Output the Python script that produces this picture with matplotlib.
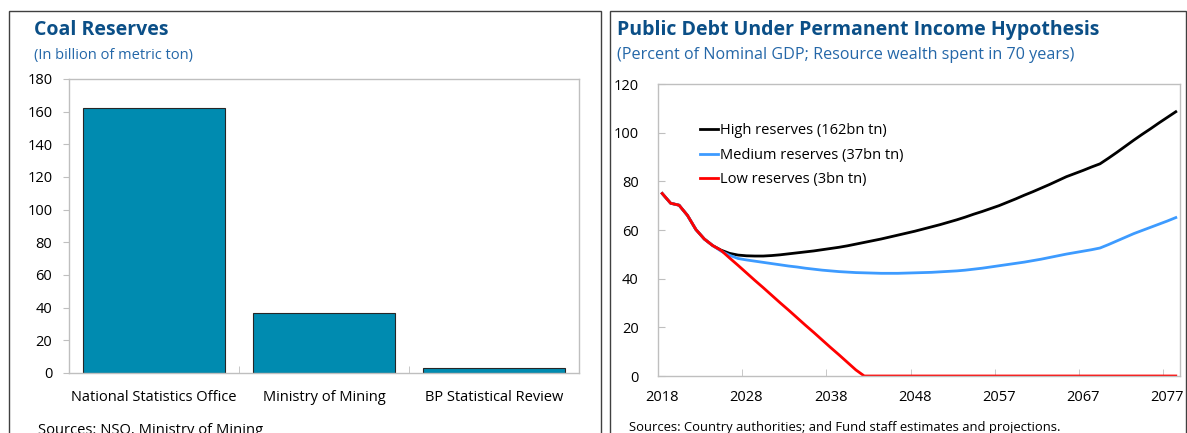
"""
Two-panel chart: coal reserves by source (bars) and public debt paths under the
permanent income hypothesis (lines).
"""
import matplotlib.pyplot as plt
import numpy as np
from matplotlib.patches import Rectangle

plt.rcParams["font.family"] = ["Open Sans", "DejaVu Sans"]

TITLE_COLOR = "#0B4F87"
SUBTITLE_COLOR = "#2467A8"
FRAME_COLOR = "#BFBFBF"

# left panel
SOURCES = ["National Statistics Office", "Ministry of Mining", "BP Statistical Review"]
RESERVES = [162, 37, 3]

# right panel: one value per year, 2018 onward
YEAR_TICK_LABELS = ["2018", "2028", "2038", "2048", "2057", "2067", "2077"]
HIGH_RESERVES = [
    75.0, 71.0, 70.2, 66.0, 60.2, 56.3, 53.6, 51.7, 50.4, 49.7,
    49.4, 49.3, 49.3, 49.5, 49.8, 50.2, 50.6, 51.0, 51.4, 51.9,
    52.4, 52.9, 53.5, 54.2, 54.9, 55.6, 56.3, 57.1, 57.9, 58.7,
    59.5, 60.4, 61.3, 62.2, 63.2, 64.2, 65.3, 66.5, 67.6, 68.8,
    70.0, 71.4, 72.8, 74.3, 75.7, 77.2, 78.7, 80.3, 81.9, 83.2,
    84.5, 85.9, 87.2, 89.5, 91.9, 94.4, 96.9, 99.3, 101.6, 104.0,
    106.3, 108.6,
]
MEDIUM_RESERVES = [
    75.0, 71.0, 70.2, 66.0, 60.2, 56.3, 53.6, 51.3, 49.6, 48.3,
    47.7, 47.2, 46.7, 46.2, 45.7, 45.2, 44.8, 44.3, 43.9, 43.5,
    43.2, 42.9, 42.7, 42.5, 42.4, 42.3, 42.2, 42.2, 42.2, 42.3,
    42.4, 42.5, 42.6, 42.8, 43.0, 43.2, 43.5, 43.9, 44.3, 44.8,
    45.3, 45.8, 46.3, 46.8, 47.4, 48.0, 48.7, 49.4, 50.1, 50.7,
    51.3, 51.9, 52.6, 54.0, 55.5, 57.0, 58.5, 59.8, 61.1, 62.4,
    63.7, 65.1,
]
LOW_RESERVES = [
    75.0, 71.0, 70.2, 66.0, 60.2, 56.3, 53.6, 51.6, 48.5, 45.5,
    42.4, 39.3, 36.3, 33.2, 30.1, 27.1, 24.0, 20.9, 17.9, 14.8,
    11.7, 8.7, 5.6, 2.5, 0.0, 0.0, 0.0, 0.0, 0.0, 0.0,
    0.0, 0.0, 0.0, 0.0, 0.0, 0.0, 0.0, 0.0, 0.0, 0.0,
    0.0, 0.0, 0.0, 0.0, 0.0, 0.0, 0.0, 0.0, 0.0, 0.0,
    0.0, 0.0, 0.0, 0.0, 0.0, 0.0, 0.0, 0.0, 0.0, 0.0,
    0.0, 0.0,
]

W, H = 1187, 433


def fx(px):
    return px / W


def fy(py):
    return 1 - py / H


def style_frame(ax):
    for sp in ax.spines.values():
        sp.set_color(FRAME_COLOR)
        sp.set_linewidth(1.0)
    ax.tick_params(colors=FRAME_COLOR, labelcolor="black", labelsize=10.5)


def panel(fig, x0, x1, title, subtitle, source, text_x, sub_size, src_x, src_size, src_top):
    fig.add_artist(Rectangle((fx(x0), -0.05), fx(x1 - x0), fy(11) + 0.05,
                             transform=fig.transFigure, fill=False,
                             edgecolor="#404040", lw=1.0))
    fig.text(fx(text_x), fy(35), title, fontsize=14, fontweight="bold",
             color=TITLE_COLOR, va="baseline")
    fig.text(fx(text_x), fy(59), subtitle, fontsize=sub_size,
             color=SUBTITLE_COLOR, va="baseline")
    fig.text(fx(src_x), fy(src_top), source, fontsize=src_size, va="top")


def plot_bars(ax):
    x = np.arange(len(RESERVES))
    ax.bar(x, RESERVES, width=0.835, color="#008BB0", edgecolor="#262626", lw=0.8)
    ax.set_xlim(-0.5, len(RESERVES) - 0.5)
    ax.set_ylim(0, 180)
    ax.set_yticks(np.arange(0, 181, 20))
    ax.set_xticks(x)
    ax.set_xticklabels(SOURCES)
    ax.set_xticks(x[:-1] + 0.5, minor=True)
    ax.tick_params(axis="x", which="major", length=0, pad=12)
    ax.tick_params(axis="x", which="minor", direction="in", length=5, color=FRAME_COLOR)
    ax.tick_params(axis="y", direction="out", length=4, pad=8)
    style_frame(ax)


def plot_lines(ax):
    x = np.arange(len(HIGH_RESERVES))
    ax.plot(x, HIGH_RESERVES, color="black", lw=2, label="High reserves (162bn tn)")
    ax.plot(x, MEDIUM_RESERVES, color="#3D9BFF", lw=2, label="Medium reserves (37bn tn)")
    ax.plot(x, LOW_RESERVES, color="#FF0000", lw=2, label="Low reserves (3bn tn)")
    ax.set_xlim(-0.5, len(x) - 0.5)
    ax.set_ylim(0, 120)
    ax.set_yticks(np.arange(0, 121, 20))
    ax.set_xticks(np.arange(len(YEAR_TICK_LABELS)) * 10)
    ax.set_xticklabels(YEAR_TICK_LABELS)
    ax.set_xticks(np.arange(len(YEAR_TICK_LABELS)) * 10 - 0.5, minor=True)
    ax.tick_params(axis="x", which="major", length=0, pad=10)
    ax.tick_params(axis="x", which="minor", direction="in", length=5, color=FRAME_COLOR)
    ax.tick_params(axis="y", direction="in", length=5, pad=14)
    style_frame(ax)
    ax.legend(loc="upper left", bbox_to_anchor=(0.08, 0.866), frameon=False,
              fontsize=10.5, handlelength=1.25, handletextpad=0.15,
              labelspacing=0.66, borderpad=0, borderaxespad=0)


def main():
    fig = plt.figure(figsize=(W / 100, H / 100), dpi=100)
    panel(fig, 9, 601, "Coal Reserves", "(In billion of metric ton)",
          "Sources: NSO, Ministry of Mining", 34, 10.5, 38, 10.6, 423)
    panel(fig, 610, 1186, "Public Debt Under Permanent Income Hypothesis",
          "(Percent of Nominal GDP; Resource wealth spent in 70 years)",
          "Sources: Country authorities; and Fund staff estimates and projections.",
          617, 11.6, 629, 9.4, 421)

    ax1 = fig.add_axes([fx(69), fy(373), fx(579 - 69), (373 - 79) / H])
    plot_bars(ax1)
    ax2 = fig.add_axes([fx(658), fy(376), fx(1180 - 658), (376 - 84) / H])
    plot_lines(ax2)

    fig.savefig("out.png", dpi=100)
    plt.close(fig)


if __name__ == "__main__":
    main()
